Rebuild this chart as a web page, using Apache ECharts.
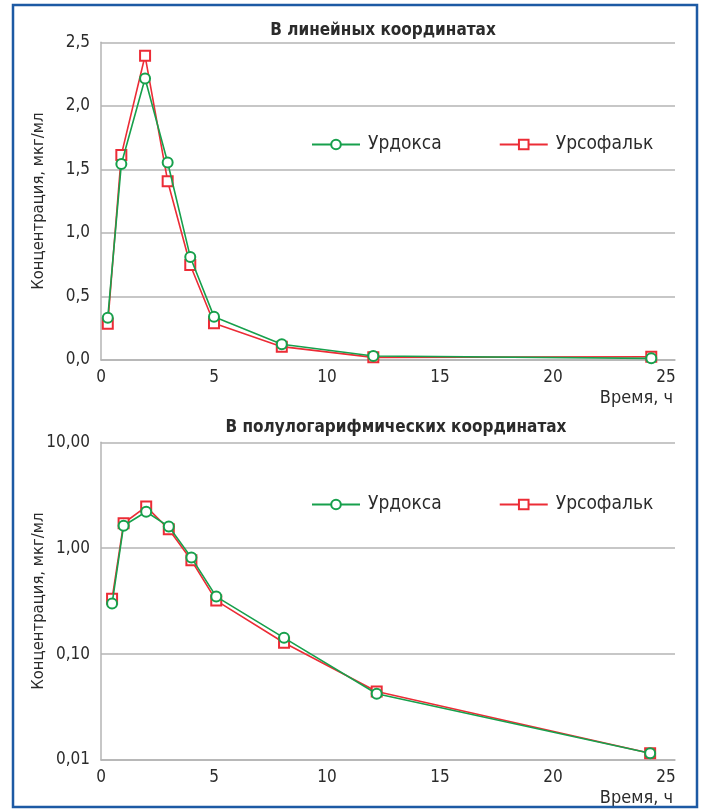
<!DOCTYPE html>
<html>
<head>
<meta charset="utf-8">
<script src="https://cdn.jsdelivr.net/npm/echarts@6/dist/echarts.min.js"></script>
<style>html,body{margin:0;padding:0;background:#fff;}#c{width:705px;height:812px;}</style>
</head>
<body>
<div id="c"></div>
<script>
// ---- data ----
const titleLin = 'В линейных координатах';
const titleLog = 'В полулогарифмических координатах';
const seriesNames = ['Урдокса', 'Урсофальк'];
const yName = 'Концентрация, мкг/мл';
const xName = 'Время, ч';
const xTicks = [0, 5, 10, 15, 20, 25];

// linear chart
const timesLin = [0.3, 0.9, 1.95, 2.95, 3.95, 5.0, 8.0, 12.05, 24.35];
const urdoksaLin = [0.333, 1.543, 2.215, 1.554, 0.811, 0.341, 0.124, 0.031, 0.013];
const ursofalkLin = [0.286, 1.614, 2.394, 1.407, 0.748, 0.289, 0.105, 0.021, 0.026];
const yTicksLin = [0, 0.5, 1.0, 1.5, 2.0, 2.5];

// semi-log chart
const timesLog = [0.49, 1.0, 2.0, 3.0, 4.0, 5.1, 8.1, 12.2, 24.3];
const urdoksaLog = [0.30, 1.63, 2.21, 1.60, 0.815, 0.349, 0.1425, 0.0422, 0.0116];
const ursofalkLog = [0.333, 1.72, 2.47, 1.51, 0.77, 0.32, 0.128, 0.0444, 0.0116];
const yTicksLog = [0.01, 0.1, 1, 10];

// ---- styles ----
const FONT = "'Liberation Sans Narrow', 'DejaVu Sans Condensed', sans-serif";
const GREEN = '#17a04c';
const RED = '#ec2c36';
const GRAY = '#b4b4b4';
const TXT = '#2b2b2b';

function pairs(xs, ys) { return xs.map((x, i) => [x, ys[i]]); }

function xAxisFor(gi) {
  return {
    gridIndex: gi, type: 'value', min: 0, max: 25.4, interval: 5,
    axisLine: { show: true, lineStyle: { color: GRAY, width: 1.5 } },
    axisTick: { show: false },
    splitLine: { show: false },
    axisLabel: { showMaxLabel: false, margin: 9, fontFamily: FONT, fontSize: 17, color: TXT,
      formatter: v => (xTicks.indexOf(v) >= 0 ? String(v) : '') },
    name: xName, nameLocation: 'end', nameGap: -2, nameMoveOverlap: false,
    nameTextStyle: { fontFamily: FONT, fontSize: 18, color: TXT, align: 'right', verticalAlign: 'top', padding: [29, 0, 0, 0] }
  };
}

function yAxisCommon(gi) {
  return {
    gridIndex: gi,
    axisLine: { show: true, lineStyle: { color: GRAY, width: 1.5 } },
    axisTick: { show: false },
    splitLine: { show: true, lineStyle: { color: GRAY, width: 1.5 } },
    name: yName, nameLocation: 'middle', nameGap: 54, nameMoveOverlap: false,
    nameTextStyle: { fontFamily: FONT, fontSize: 16.5, color: TXT }
  };
}

function lineSeries(name, xi, yi, data, color, sym) {
  return {
    name: name, type: 'line', xAxisIndex: xi, yAxisIndex: yi, data: data,
    symbol: sym, symbolSize: 10, showAllSymbol: true,
    lineStyle: { color: color, width: 1.6 },
    itemStyle: { color: color, borderColor: color, borderWidth: 1.5 },
    emphasis: { disabled: true }, animation: false, z: sym === 'emptyCircle' ? 3 : 2
  };
}

function legendFor(top) {
  return {
    left: 306, top: top, itemWidth: 48, itemHeight: 12, itemGap: 57,
    data: seriesNames,
    textStyle: { fontFamily: FONT, fontSize: 19, color: TXT, padding: [0, 0, 0, 3] }
  };
}

const chart = echarts.init(document.getElementById('c'), null, { renderer: 'canvas' });
chart.setOption({
  backgroundColor: '#fff',
  animation: false,
  title: [
    { text: titleLin, left: 378, top: 17, textAlign: 'center',
      textStyle: { fontFamily: FONT, fontWeight: 'bold', fontSize: 17, color: TXT } },
    { text: titleLog, left: 391, top: 414, textAlign: 'center',
      textStyle: { fontFamily: FONT, fontWeight: 'bold', fontSize: 17, color: TXT } }
  ],
  legend: [legendFor(130), legendFor(490)],
  grid: [
    { left: 101, top: 42.3, right: 30, height: 317.7 },
    { left: 101, top: 442.3, right: 30, height: 317.7 }
  ],
  xAxis: [xAxisFor(0), xAxisFor(1)],
  yAxis: [
    Object.assign(yAxisCommon(0), {
      type: 'value', min: yTicksLin[0], max: yTicksLin[yTicksLin.length - 1], interval: 0.5,
      axisLabel: { margin: 11, fontFamily: FONT, fontSize: 17, color: TXT,
        formatter: v => v.toFixed(1).replace('.', ',') } }),
    Object.assign(yAxisCommon(1), {
      type: 'log', logBase: 10, min: yTicksLog[0], max: yTicksLog[yTicksLog.length - 1],
      axisLabel: { margin: 11, fontFamily: FONT, fontSize: 17, color: TXT,
        formatter: v => Number(v).toFixed(2).replace('.', ',') } })
  ],
  series: [
    lineSeries(seriesNames[1], 0, 0, pairs(timesLin, ursofalkLin), RED, 'emptyRect'),
    lineSeries(seriesNames[0], 0, 0, pairs(timesLin, urdoksaLin), GREEN, 'emptyCircle'),
    lineSeries(seriesNames[1], 1, 1, pairs(timesLog, ursofalkLog), RED, 'emptyRect'),
    lineSeries(seriesNames[0], 1, 1, pairs(timesLog, urdoksaLog), GREEN, 'emptyCircle')
  ],
  graphic: [
    { type: 'rect', shape: { x: 13, y: 5, width: 684, height: 802 }, silent: true,
      style: { fill: null, stroke: '#1d5aa4', lineWidth: 2.5 }, z: 100 }
  ]
});
</script>
</body>
</html>
